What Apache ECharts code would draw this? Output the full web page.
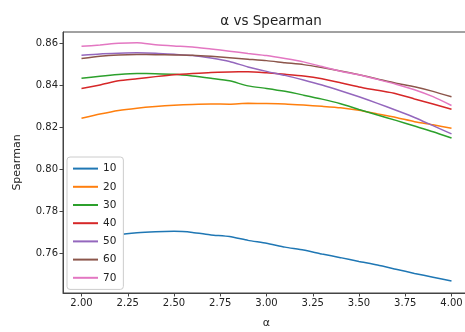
<!DOCTYPE html>
<html><head><meta charset="utf-8">
<script src="https://cdn.jsdelivr.net/npm/echarts@6/dist/echarts.min.js"></script>
<style>html,body{margin:0;padding:0;background:#fff}#c{width:465px;height:332px}</style>
</head><body><div id="c"></div>
<script>
const alphas = [2.0,2.1,2.2,2.3,2.4,2.5,2.6,2.7,2.8,2.9,3.0,3.1,3.2,3.3,3.4,3.5,3.6,3.7,3.8,3.9,4.0];
const s10 = [0.7645,0.7670,0.7688,0.7698,0.7703,0.7705,0.7700,0.7688,0.7680,0.7662,0.7648,0.7630,0.7616,0.7597,0.7580,0.7562,0.7545,0.7525,0.7505,0.7487,0.7469];
const s20 = [0.8242,0.8262,0.8279,0.8290,0.8298,0.8304,0.8308,0.8310,0.8309,0.8313,0.8312,0.8310,0.8305,0.8299,0.8292,0.8280,0.8263,0.8246,0.8226,0.8211,0.8195];
const s30 = [0.8432,0.8442,0.8450,0.8455,0.8454,0.8451,0.8443,0.8432,0.8420,0.8396,0.8384,0.8370,0.8352,0.8333,0.8311,0.8284,0.8258,0.8232,0.8205,0.8178,0.8148];
const s40 = [0.8384,0.8400,0.8420,0.8430,0.8440,0.8449,0.8455,0.8460,0.8462,0.8463,0.8458,0.8451,0.8443,0.8430,0.8411,0.8391,0.8375,0.8359,0.8334,0.8310,0.8285];
const s50 = [0.8542,0.8548,0.8551,0.8553,0.8551,0.8546,0.8540,0.8528,0.8512,0.8486,0.8465,0.8446,0.8424,0.8400,0.8373,0.8344,0.8313,0.8280,0.8246,0.8207,0.8168];
const s60 = [0.8526,0.8537,0.8543,0.8545,0.8544,0.8543,0.8542,0.8537,0.8530,0.8523,0.8516,0.8506,0.8497,0.8483,0.8467,0.8449,0.8429,0.8409,0.8392,0.8370,0.8344];
const s70 = [0.8584,0.8590,0.8598,0.8601,0.8592,0.8586,0.8581,0.8571,0.8561,0.8550,0.8540,0.8526,0.8510,0.8488,0.8466,0.8449,0.8427,0.8404,0.8378,0.8345,0.8303];
const seriesNames = ['10','20','30','40','50','60','70'];
const seriesValues = [s10,s20,s30,s40,s50,s60,s70];
const colors = ['#1f77b4','#ff7f0e','#2ca02c','#d62728','#9467bd','#8c564b','#e377c2'];
const xTicks = [2.0,2.25,2.5,2.75,3.0,3.25,3.5,3.75,4.0];
const yTicks = [0.76,0.78,0.80,0.82,0.84,0.86];

const font = 'DejaVu Sans';
const chart = echarts.init(document.getElementById('c'), null, {renderer:'canvas'});
chart.setOption({
  animation:false,
  color: colors,
  title:{text:'α vs Spearman', left:266, top:9, textAlign:'center',
    textStyle:{fontFamily:font, fontSize:13.5, fontWeight:'normal', color:'#222'}},
  grid:{left:63, top:32, width:407, height:261, show:true, borderColor:'#444', borderWidth:1, backgroundColor:'#fff',
    outerBoundsMode:'none', containLabel:false},
  legend:{orient:'vertical', left:67, top:157, icon:'rect', itemWidth:25, itemHeight:2,
    itemGap:5, padding:[5,7,5,6], backgroundColor:'#fff', borderColor:'#ccc', borderWidth:1, borderRadius:3,
    textStyle:{fontFamily:font, fontSize:10.5, color:'#222', lineHeight:13.2},
    data: seriesNames},
  xAxis:{type:'value', min:1.9, max:4.1, name:'α', nameLocation:'middle', nameGap:25,
    nameTextStyle:{fontFamily:font, fontSize:11, color:'#222'},
    axisLine:{show:true, lineStyle:{color:'#444'}},
    axisTick:{show:true, length:3.5, lineStyle:{color:'#444'}, customValues:xTicks},
    axisLabel:{fontFamily:font, fontSize:10, color:'#222', margin:5, customValues:xTicks,
      formatter:v=>v.toFixed(2)},
    splitLine:{show:false}},
  yAxis:{type:'value', min:0.7412, max:0.8652, name:'Spearman', nameLocation:'middle', nameGap:40,
    nameTextStyle:{fontFamily:font, fontSize:11, color:'#222'},
    axisLine:{show:true, lineStyle:{color:'#444'}},
    axisTick:{show:true, length:3.5, lineStyle:{color:'#444'}, customValues:yTicks},
    axisLabel:{fontFamily:font, fontSize:10, color:'#222', margin:5, customValues:yTicks,
      formatter:v=>v.toFixed(2)},
    splitLine:{show:false}},
  series: seriesNames.map((n,i)=>({
    name:n, type:'line', showSymbol:false, symbol:'none', smooth:0.2,
    lineStyle:{width:1.5, color:colors[i]}, itemStyle:{color:colors[i]},
    data: alphas.map((a,j)=>[a, seriesValues[i][j]])
  }))
});
</script></body></html>
